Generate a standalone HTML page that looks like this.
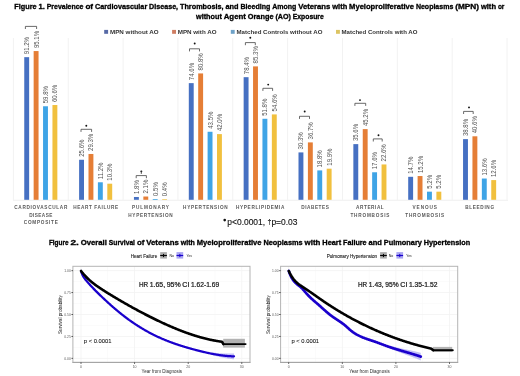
<!DOCTYPE html>
<html><head><meta charset="utf-8"><style>
html,body{margin:0;padding:0;background:#fff;}
body{width:520px;height:376px;overflow:hidden;}
svg{display:block;font-family:"Liberation Sans", sans-serif;will-change:transform;filter:blur(0.3px);}
</style></head><body>
<svg width="520" height="376" viewBox="0 0 520 376">
<rect width="520" height="376" fill="#fff"/>
<text x="14.30" y="8.90" font-size="7.7" font-weight="bold" textLength="22.30" lengthAdjust="spacingAndGlyphs" fill="#000" stroke="#000" stroke-width="0.32">Figure</text>
<text x="38.50" y="8.90" font-size="7.7" font-weight="bold" textLength="6.30" lengthAdjust="spacingAndGlyphs" fill="#000" stroke="#000" stroke-width="0.32">1.</text>
<text x="46.70" y="8.90" font-size="7.7" font-weight="bold" textLength="36.80" lengthAdjust="spacingAndGlyphs" fill="#000" stroke="#000" stroke-width="0.32">Prevalence</text>
<text x="85.40" y="8.90" font-size="7.7" font-weight="bold" textLength="7.70" lengthAdjust="spacingAndGlyphs" fill="#000" stroke="#000" stroke-width="0.32">of</text>
<text x="95.00" y="8.90" font-size="7.7" font-weight="bold" textLength="52.20" lengthAdjust="spacingAndGlyphs" fill="#000" stroke="#000" stroke-width="0.32">Cardiovascular</text>
<text x="149.10" y="8.90" font-size="7.7" font-weight="bold" textLength="29.00" lengthAdjust="spacingAndGlyphs" fill="#000" stroke="#000" stroke-width="0.32">Disease,</text>
<text x="180.00" y="8.90" font-size="7.7" font-weight="bold" textLength="43.60" lengthAdjust="spacingAndGlyphs" fill="#000" stroke="#000" stroke-width="0.32">Thrombosis,</text>
<text x="225.50" y="8.90" font-size="7.7" font-weight="bold" textLength="13.10" lengthAdjust="spacingAndGlyphs" fill="#000" stroke="#000" stroke-width="0.32">and</text>
<text x="240.50" y="8.90" font-size="7.7" font-weight="bold" textLength="29.80" lengthAdjust="spacingAndGlyphs" fill="#000" stroke="#000" stroke-width="0.32">Bleeding</text>
<text x="272.20" y="8.90" font-size="7.7" font-weight="bold" textLength="24.10" lengthAdjust="spacingAndGlyphs" fill="#000" stroke="#000" stroke-width="0.32">Among</text>
<text x="298.20" y="8.90" font-size="7.7" font-weight="bold" textLength="32.20" lengthAdjust="spacingAndGlyphs" fill="#000" stroke="#000" stroke-width="0.32">Veterans</text>
<text x="332.30" y="8.90" font-size="7.7" font-weight="bold" textLength="14.90" lengthAdjust="spacingAndGlyphs" fill="#000" stroke="#000" stroke-width="0.32">with</text>
<text x="349.10" y="8.90" font-size="7.7" font-weight="bold" textLength="64.90" lengthAdjust="spacingAndGlyphs" fill="#000" stroke="#000" stroke-width="0.32">Myeloproliferative</text>
<text x="415.90" y="8.90" font-size="7.7" font-weight="bold" textLength="37.40" lengthAdjust="spacingAndGlyphs" fill="#000" stroke="#000" stroke-width="0.32">Neoplasms</text>
<text x="455.20" y="8.90" font-size="7.7" font-weight="bold" textLength="23.80" lengthAdjust="spacingAndGlyphs" fill="#000" stroke="#000" stroke-width="0.32">(MPN)</text>
<text x="480.90" y="8.90" font-size="7.7" font-weight="bold" textLength="15.10" lengthAdjust="spacingAndGlyphs" fill="#000" stroke="#000" stroke-width="0.32">with</text>
<text x="497.90" y="8.90" font-size="7.7" font-weight="bold" textLength="6.50" lengthAdjust="spacingAndGlyphs" fill="#000" stroke="#000" stroke-width="0.32">or</text>
<text x="196.00" y="18.50" font-size="7.7" font-weight="bold" textLength="25.80" lengthAdjust="spacingAndGlyphs" fill="#000" stroke="#000" stroke-width="0.32">without</text>
<text x="223.70" y="18.50" font-size="7.7" font-weight="bold" textLength="22.20" lengthAdjust="spacingAndGlyphs" fill="#000" stroke="#000" stroke-width="0.32">Agent</text>
<text x="247.80" y="18.50" font-size="7.7" font-weight="bold" textLength="25.70" lengthAdjust="spacingAndGlyphs" fill="#000" stroke="#000" stroke-width="0.32">Orange</text>
<text x="275.40" y="18.50" font-size="7.7" font-weight="bold" textLength="15.50" lengthAdjust="spacingAndGlyphs" fill="#000" stroke="#000" stroke-width="0.32">(AO)</text>
<text x="292.80" y="18.50" font-size="7.7" font-weight="bold" textLength="31.00" lengthAdjust="spacingAndGlyphs" fill="#000" stroke="#000" stroke-width="0.32">Exposure</text>
<rect x="104.2" y="29.9" width="3.9" height="3.9" fill="#5669a6"/>
<text x="110.00" y="33.90" font-size="5.9" font-weight="bold" textLength="48.70" lengthAdjust="spacingAndGlyphs" fill="#333">MPN without AO</text>
<rect x="172.1" y="29.9" width="3.9" height="3.9" fill="#cf7d62"/>
<text x="177.70" y="33.90" font-size="5.9" font-weight="bold" textLength="38.90" lengthAdjust="spacingAndGlyphs" fill="#333">MPN with AO</text>
<rect x="230.8" y="29.9" width="3.9" height="3.9" fill="#6ea2c8"/>
<text x="236.50" y="33.90" font-size="5.9" font-weight="bold" textLength="86.00" lengthAdjust="spacingAndGlyphs" fill="#333">Matched Controls without AO</text>
<rect x="336.0" y="29.9" width="3.9" height="3.9" fill="#dcc462"/>
<text x="341.50" y="33.90" font-size="5.9" font-weight="bold" textLength="76.00" lengthAdjust="spacingAndGlyphs" fill="#333">Matched Controls with AO</text>
<rect x="12.87" y="38" width="1" height="161.80" fill="#f2f2f2"/>
<rect x="67.72" y="38" width="1" height="161.80" fill="#f2f2f2"/>
<rect x="122.58" y="38" width="1" height="161.80" fill="#f2f2f2"/>
<rect x="177.43" y="38" width="1" height="161.80" fill="#f2f2f2"/>
<rect x="232.28" y="38" width="1" height="161.80" fill="#f2f2f2"/>
<rect x="287.12" y="38" width="1" height="161.80" fill="#f2f2f2"/>
<rect x="341.98" y="38" width="1" height="161.80" fill="#f2f2f2"/>
<rect x="396.82" y="38" width="1" height="161.80" fill="#f2f2f2"/>
<rect x="451.68" y="38" width="1" height="161.80" fill="#f2f2f2"/>
<rect x="506.53" y="38" width="1" height="161.80" fill="#f2f2f2"/>
<rect x="13" y="199.80" width="495" height="0.8" fill="#ececec"/>
<rect x="24.25" y="57.16" width="4.9" height="142.64" fill="#4670C2"/>
<text transform="translate(29.15,54.16) rotate(-90)" font-size="6.8" textLength="17.15" lengthAdjust="spacingAndGlyphs" fill="#555">91.2%</text>
<rect x="33.65" y="51.06" width="4.9" height="148.74" fill="#E57E36"/>
<text transform="translate(38.55,48.06) rotate(-90)" font-size="6.8" textLength="17.15" lengthAdjust="spacingAndGlyphs" fill="#555">95.1%</text>
<rect x="43.05" y="106.27" width="4.9" height="93.53" fill="#3FA4E6"/>
<text transform="translate(47.95,103.27) rotate(-90)" font-size="6.8" textLength="17.15" lengthAdjust="spacingAndGlyphs" fill="#555">59.8%</text>
<rect x="52.45" y="105.02" width="4.9" height="94.78" fill="#F1C03E"/>
<text transform="translate(57.35,102.02) rotate(-90)" font-size="6.8" textLength="17.15" lengthAdjust="spacingAndGlyphs" fill="#555">60.6%</text>
<rect x="79.10" y="159.76" width="4.9" height="40.04" fill="#4670C2"/>
<text transform="translate(84.00,156.76) rotate(-90)" font-size="6.8" textLength="17.15" lengthAdjust="spacingAndGlyphs" fill="#555">25.6%</text>
<rect x="88.50" y="153.97" width="4.9" height="45.83" fill="#E57E36"/>
<text transform="translate(93.40,150.97) rotate(-90)" font-size="6.8" textLength="17.15" lengthAdjust="spacingAndGlyphs" fill="#555">29.3%</text>
<rect x="97.90" y="182.28" width="4.9" height="17.52" fill="#3FA4E6"/>
<text transform="translate(102.80,179.28) rotate(-90)" font-size="6.8" textLength="16.70" lengthAdjust="spacingAndGlyphs" fill="#555">11.2%</text>
<rect x="107.30" y="183.69" width="4.9" height="16.11" fill="#F1C03E"/>
<text transform="translate(112.20,180.69) rotate(-90)" font-size="6.8" textLength="17.15" lengthAdjust="spacingAndGlyphs" fill="#555">10.3%</text>
<rect x="133.95" y="196.98" width="4.9" height="2.82" fill="#4670C2"/>
<text transform="translate(138.85,193.98) rotate(-90)" font-size="6.8" textLength="13.79" lengthAdjust="spacingAndGlyphs" fill="#555">1.8%</text>
<rect x="143.35" y="196.52" width="4.9" height="3.28" fill="#E57E36"/>
<text transform="translate(148.25,193.52) rotate(-90)" font-size="6.8" textLength="13.79" lengthAdjust="spacingAndGlyphs" fill="#555">2.1%</text>
<rect x="152.75" y="199.02" width="4.9" height="0.78" fill="#3FA4E6"/>
<text transform="translate(157.65,196.02) rotate(-90)" font-size="6.8" textLength="13.79" lengthAdjust="spacingAndGlyphs" fill="#555">0.5%</text>
<rect x="162.15" y="199.17" width="4.9" height="0.63" fill="#F1C03E"/>
<text transform="translate(167.05,196.17) rotate(-90)" font-size="6.8" textLength="13.79" lengthAdjust="spacingAndGlyphs" fill="#555">0.4%</text>
<rect x="188.80" y="83.13" width="4.9" height="116.67" fill="#4670C2"/>
<text transform="translate(193.70,80.13) rotate(-90)" font-size="6.8" textLength="17.15" lengthAdjust="spacingAndGlyphs" fill="#555">74.6%</text>
<rect x="198.20" y="73.43" width="4.9" height="126.37" fill="#E57E36"/>
<text transform="translate(203.10,70.43) rotate(-90)" font-size="6.8" textLength="17.15" lengthAdjust="spacingAndGlyphs" fill="#555">80.8%</text>
<rect x="207.60" y="131.77" width="4.9" height="68.03" fill="#3FA4E6"/>
<text transform="translate(212.50,128.77) rotate(-90)" font-size="6.8" textLength="17.15" lengthAdjust="spacingAndGlyphs" fill="#555">43.5%</text>
<rect x="217.00" y="134.11" width="4.9" height="65.69" fill="#F1C03E"/>
<text transform="translate(221.90,131.11) rotate(-90)" font-size="6.8" textLength="17.15" lengthAdjust="spacingAndGlyphs" fill="#555">42.0%</text>
<rect x="243.65" y="77.18" width="4.9" height="122.62" fill="#4670C2"/>
<text transform="translate(248.55,74.18) rotate(-90)" font-size="6.8" textLength="17.15" lengthAdjust="spacingAndGlyphs" fill="#555">78.4%</text>
<rect x="253.05" y="66.39" width="4.9" height="133.41" fill="#E57E36"/>
<text transform="translate(257.95,63.39) rotate(-90)" font-size="6.8" textLength="17.15" lengthAdjust="spacingAndGlyphs" fill="#555">85.3%</text>
<rect x="262.45" y="118.78" width="4.9" height="81.02" fill="#3FA4E6"/>
<text transform="translate(267.35,115.78) rotate(-90)" font-size="6.8" textLength="17.15" lengthAdjust="spacingAndGlyphs" fill="#555">51.8%</text>
<rect x="271.85" y="114.41" width="4.9" height="85.39" fill="#F1C03E"/>
<text transform="translate(276.75,111.41) rotate(-90)" font-size="6.8" textLength="17.15" lengthAdjust="spacingAndGlyphs" fill="#555">54.6%</text>
<rect x="298.50" y="152.41" width="4.9" height="47.39" fill="#4670C2"/>
<text transform="translate(303.40,149.41) rotate(-90)" font-size="6.8" textLength="17.15" lengthAdjust="spacingAndGlyphs" fill="#555">30.3%</text>
<rect x="307.90" y="142.40" width="4.9" height="57.40" fill="#E57E36"/>
<text transform="translate(312.80,139.40) rotate(-90)" font-size="6.8" textLength="17.15" lengthAdjust="spacingAndGlyphs" fill="#555">36.7%</text>
<rect x="317.30" y="170.40" width="4.9" height="29.40" fill="#3FA4E6"/>
<text transform="translate(322.20,167.40) rotate(-90)" font-size="6.8" textLength="17.15" lengthAdjust="spacingAndGlyphs" fill="#555">18.8%</text>
<rect x="326.70" y="168.68" width="4.9" height="31.12" fill="#F1C03E"/>
<text transform="translate(331.60,165.68) rotate(-90)" font-size="6.8" textLength="17.15" lengthAdjust="spacingAndGlyphs" fill="#555">19.9%</text>
<rect x="353.35" y="144.12" width="4.9" height="55.68" fill="#4670C2"/>
<text transform="translate(358.25,141.12) rotate(-90)" font-size="6.8" textLength="17.15" lengthAdjust="spacingAndGlyphs" fill="#555">35.6%</text>
<rect x="362.75" y="129.11" width="4.9" height="70.69" fill="#E57E36"/>
<text transform="translate(367.65,126.11) rotate(-90)" font-size="6.8" textLength="17.15" lengthAdjust="spacingAndGlyphs" fill="#555">45.2%</text>
<rect x="372.15" y="172.27" width="4.9" height="27.53" fill="#3FA4E6"/>
<text transform="translate(377.05,169.27) rotate(-90)" font-size="6.8" textLength="17.15" lengthAdjust="spacingAndGlyphs" fill="#555">17.6%</text>
<rect x="381.55" y="164.45" width="4.9" height="35.35" fill="#F1C03E"/>
<text transform="translate(386.45,161.45) rotate(-90)" font-size="6.8" textLength="17.15" lengthAdjust="spacingAndGlyphs" fill="#555">22.6%</text>
<rect x="408.20" y="176.81" width="4.9" height="22.99" fill="#4670C2"/>
<text transform="translate(413.10,173.81) rotate(-90)" font-size="6.8" textLength="17.15" lengthAdjust="spacingAndGlyphs" fill="#555">14.7%</text>
<rect x="417.60" y="176.03" width="4.9" height="23.77" fill="#E57E36"/>
<text transform="translate(422.50,173.03) rotate(-90)" font-size="6.8" textLength="17.15" lengthAdjust="spacingAndGlyphs" fill="#555">15.2%</text>
<rect x="427.00" y="191.67" width="4.9" height="8.13" fill="#3FA4E6"/>
<text transform="translate(431.90,188.67) rotate(-90)" font-size="6.8" textLength="13.79" lengthAdjust="spacingAndGlyphs" fill="#555">5.2%</text>
<rect x="436.40" y="191.67" width="4.9" height="8.13" fill="#F1C03E"/>
<text transform="translate(441.30,188.67) rotate(-90)" font-size="6.8" textLength="13.79" lengthAdjust="spacingAndGlyphs" fill="#555">5.2%</text>
<rect x="463.05" y="139.12" width="4.9" height="60.68" fill="#4670C2"/>
<text transform="translate(467.95,136.12) rotate(-90)" font-size="6.8" textLength="17.15" lengthAdjust="spacingAndGlyphs" fill="#555">38.8%</text>
<rect x="472.45" y="136.30" width="4.9" height="63.50" fill="#E57E36"/>
<text transform="translate(477.35,133.30) rotate(-90)" font-size="6.8" textLength="17.15" lengthAdjust="spacingAndGlyphs" fill="#555">40.6%</text>
<rect x="481.85" y="178.53" width="4.9" height="21.27" fill="#3FA4E6"/>
<text transform="translate(486.75,175.53) rotate(-90)" font-size="6.8" textLength="17.15" lengthAdjust="spacingAndGlyphs" fill="#555">13.6%</text>
<rect x="491.25" y="180.09" width="4.9" height="19.71" fill="#F1C03E"/>
<text transform="translate(496.15,177.09) rotate(-90)" font-size="6.8" textLength="17.15" lengthAdjust="spacingAndGlyphs" fill="#555">12.6%</text>
<path d="M25.40 29.00V26.40H36.60V29.00" fill="none" stroke="#444" stroke-width="0.8"/>
<path d="M81.00 131.90V129.30H91.60V131.90" fill="none" stroke="#444" stroke-width="0.8"/>
<circle cx="86.30" cy="125.70" r="0.95" fill="#111"/>
<path d="M136.20 178.20V175.60H146.40V178.20" fill="none" stroke="#444" stroke-width="0.8"/>
<path d="M141.30 170.40V173.80M140.30 171.40H142.30" stroke="#111" stroke-width="0.8" fill="none"/>
<path d="M189.50 51.40V48.80H199.50V51.40" fill="none" stroke="#444" stroke-width="0.8"/>
<circle cx="194.70" cy="43.50" r="0.95" fill="#111"/>
<path d="M245.40 45.20V42.60H255.30V45.20" fill="none" stroke="#444" stroke-width="0.8"/>
<circle cx="250.30" cy="37.70" r="0.95" fill="#111"/>
<path d="M262.90 90.90V88.30H272.60V90.90" fill="none" stroke="#444" stroke-width="0.8"/>
<circle cx="268.20" cy="84.60" r="0.95" fill="#111"/>
<path d="M299.50 118.90V116.30H309.50V118.90" fill="none" stroke="#444" stroke-width="0.8"/>
<circle cx="304.70" cy="111.50" r="0.95" fill="#111"/>
<path d="M354.90 105.90V103.30H365.70V105.90" fill="none" stroke="#444" stroke-width="0.8"/>
<circle cx="360.00" cy="100.10" r="0.95" fill="#111"/>
<path d="M373.30 141.50V138.90H382.20V141.50" fill="none" stroke="#444" stroke-width="0.8"/>
<circle cx="378.50" cy="135.20" r="0.95" fill="#111"/>
<path d="M463.60 114.00V111.40H473.20V114.00" fill="none" stroke="#444" stroke-width="0.8"/>
<circle cx="469.00" cy="107.40" r="0.95" fill="#111"/>
<text transform="translate(40.80,209.10) scale(0.84,1)" font-size="5.6" font-weight="bold" text-anchor="middle" textLength="63.21" lengthAdjust="spacing" fill="#585858">CARDIOVASCULAR</text>
<text transform="translate(40.80,216.60) scale(0.84,1)" font-size="5.6" font-weight="bold" text-anchor="middle" textLength="27.50" lengthAdjust="spacing" fill="#585858">DISEASE</text>
<text transform="translate(40.80,224.10) scale(0.84,1)" font-size="5.6" font-weight="bold" text-anchor="middle" textLength="40.48" lengthAdjust="spacing" fill="#585858">COMPOSITE</text>
<text transform="translate(95.65,209.10) scale(0.84,1)" font-size="5.6" font-weight="bold" text-anchor="middle" textLength="53.57" lengthAdjust="spacing" fill="#585858">HEART FAILURE</text>
<text transform="translate(150.50,209.10) scale(0.84,1)" font-size="5.6" font-weight="bold" text-anchor="middle" textLength="44.05" lengthAdjust="spacing" fill="#585858">PULMONARY</text>
<text transform="translate(150.50,216.60) scale(0.84,1)" font-size="5.6" font-weight="bold" text-anchor="middle" textLength="52.98" lengthAdjust="spacing" fill="#585858">HYPERTENSION</text>
<text transform="translate(205.35,209.10) scale(0.84,1)" font-size="5.6" font-weight="bold" text-anchor="middle" textLength="52.98" lengthAdjust="spacing" fill="#585858">HYPERTENSION</text>
<text transform="translate(260.20,209.10) scale(0.84,1)" font-size="5.6" font-weight="bold" text-anchor="middle" textLength="57.62" lengthAdjust="spacing" fill="#585858">HYPERLIPIDEMIA</text>
<text transform="translate(315.05,209.10) scale(0.84,1)" font-size="5.6" font-weight="bold" text-anchor="middle" textLength="32.98" lengthAdjust="spacing" fill="#585858">DIABETES</text>
<text transform="translate(369.90,209.10) scale(0.84,1)" font-size="5.6" font-weight="bold" text-anchor="middle" textLength="32.98" lengthAdjust="spacing" fill="#585858">ARTERIAL</text>
<text transform="translate(369.90,216.60) scale(0.84,1)" font-size="5.6" font-weight="bold" text-anchor="middle" textLength="46.43" lengthAdjust="spacing" fill="#585858">THROMBOSIS</text>
<text transform="translate(424.75,209.10) scale(0.84,1)" font-size="5.6" font-weight="bold" text-anchor="middle" textLength="29.17" lengthAdjust="spacing" fill="#585858">VENOUS</text>
<text transform="translate(424.75,216.60) scale(0.84,1)" font-size="5.6" font-weight="bold" text-anchor="middle" textLength="46.43" lengthAdjust="spacing" fill="#585858">THROMBOSIS</text>
<text transform="translate(479.60,209.10) scale(0.84,1)" font-size="5.6" font-weight="bold" text-anchor="middle" textLength="34.40" lengthAdjust="spacing" fill="#585858">BLEEDING</text>
<circle cx="224.7" cy="220.1" r="1.3" fill="#111"/>
<text x="227.30" y="225.20" font-size="8.4" textLength="70.20" lengthAdjust="spacingAndGlyphs" fill="#111" stroke="#111" stroke-width="0.12">p&lt;0.0001, <tspan font-size="7" dy="-1.3">†</tspan><tspan dy="1.3">p=0.03</tspan></text>
<text x="48.90" y="245.10" font-size="7.7" font-weight="bold" textLength="19.60" lengthAdjust="spacingAndGlyphs" fill="#000" stroke="#000" stroke-width="0.32">Figure</text>
<text x="70.40" y="245.10" font-size="7.7" font-weight="bold" textLength="8.40" lengthAdjust="spacingAndGlyphs" fill="#000" stroke="#000" stroke-width="0.32">2.</text>
<text x="80.70" y="245.10" font-size="7.7" font-weight="bold" textLength="26.20" lengthAdjust="spacingAndGlyphs" fill="#000" stroke="#000" stroke-width="0.32">Overall</text>
<text x="108.80" y="245.10" font-size="7.7" font-weight="bold" textLength="26.20" lengthAdjust="spacingAndGlyphs" fill="#000" stroke="#000" stroke-width="0.32">Survival</text>
<text x="136.90" y="245.10" font-size="7.7" font-weight="bold" textLength="7.40" lengthAdjust="spacingAndGlyphs" fill="#000" stroke="#000" stroke-width="0.32">of</text>
<text x="146.20" y="245.10" font-size="7.7" font-weight="bold" textLength="32.70" lengthAdjust="spacingAndGlyphs" fill="#000" stroke="#000" stroke-width="0.32">Veterans</text>
<text x="180.80" y="245.10" font-size="7.7" font-weight="bold" textLength="14.10" lengthAdjust="spacingAndGlyphs" fill="#000" stroke="#000" stroke-width="0.32">with</text>
<text x="196.80" y="245.10" font-size="7.7" font-weight="bold" textLength="64.70" lengthAdjust="spacingAndGlyphs" fill="#000" stroke="#000" stroke-width="0.32">Myeloproliferative</text>
<text x="263.40" y="245.10" font-size="7.7" font-weight="bold" textLength="39.30" lengthAdjust="spacingAndGlyphs" fill="#000" stroke="#000" stroke-width="0.32">Neoplasms</text>
<text x="304.60" y="245.10" font-size="7.7" font-weight="bold" textLength="15.80" lengthAdjust="spacingAndGlyphs" fill="#000" stroke="#000" stroke-width="0.32">with</text>
<text x="322.30" y="245.10" font-size="7.7" font-weight="bold" textLength="18.90" lengthAdjust="spacingAndGlyphs" fill="#000" stroke="#000" stroke-width="0.32">Heart</text>
<text x="343.10" y="245.10" font-size="7.7" font-weight="bold" textLength="23.50" lengthAdjust="spacingAndGlyphs" fill="#000" stroke="#000" stroke-width="0.32">Failure</text>
<text x="368.50" y="245.10" font-size="7.7" font-weight="bold" textLength="13.40" lengthAdjust="spacingAndGlyphs" fill="#000" stroke="#000" stroke-width="0.32">and</text>
<text x="383.80" y="245.10" font-size="7.7" font-weight="bold" textLength="38.10" lengthAdjust="spacingAndGlyphs" fill="#000" stroke="#000" stroke-width="0.32">Pulmonary</text>
<text x="423.80" y="245.10" font-size="7.7" font-weight="bold" textLength="46.40" lengthAdjust="spacingAndGlyphs" fill="#000" stroke="#000" stroke-width="0.32">Hypertension</text>
<rect x="72.90" y="347.05" width="177.10" height="0.6" fill="#f8f8f8"/>
<rect x="72.90" y="325.15" width="177.10" height="0.6" fill="#f8f8f8"/>
<rect x="72.90" y="303.25" width="177.10" height="0.6" fill="#f8f8f8"/>
<rect x="72.90" y="281.35" width="177.10" height="0.6" fill="#f8f8f8"/>
<rect x="107.50" y="266.30" width="0.6" height="96.10" fill="#f8f8f8"/>
<rect x="161.10" y="266.30" width="0.6" height="96.10" fill="#f8f8f8"/>
<rect x="214.70" y="266.30" width="0.6" height="96.10" fill="#f8f8f8"/>
<rect x="72.90" y="357.90" width="177.10" height="0.8" fill="#f3f3f3"/>
<rect x="72.90" y="336.00" width="177.10" height="0.8" fill="#f3f3f3"/>
<rect x="72.90" y="314.10" width="177.10" height="0.8" fill="#f3f3f3"/>
<rect x="72.90" y="292.20" width="177.10" height="0.8" fill="#f3f3f3"/>
<rect x="72.90" y="270.30" width="177.10" height="0.8" fill="#f3f3f3"/>
<rect x="80.60" y="266.30" width="0.8" height="96.10" fill="#f3f3f3"/>
<rect x="134.20" y="266.30" width="0.8" height="96.10" fill="#f3f3f3"/>
<rect x="187.80" y="266.30" width="0.8" height="96.10" fill="#f3f3f3"/>
<rect x="241.40" y="266.30" width="0.8" height="96.10" fill="#f3f3f3"/>
<rect x="72.90" y="266.30" width="177.10" height="96.10" fill="none" stroke="#b4b4b4" stroke-width="1"/>
<rect x="72.40" y="361.90" width="178.10" height="0.9" fill="#a0a0a0"/>
<rect x="71.50" y="270.25" width="1.4" height="0.9" fill="#333"/>
<text x="70.80" y="271.90" font-size="3.5" text-anchor="end" textLength="6.50" lengthAdjust="spacingAndGlyphs" fill="#5a5a5a">1.00</text>
<rect x="71.50" y="292.15" width="1.4" height="0.9" fill="#333"/>
<text x="70.80" y="293.80" font-size="3.5" text-anchor="end" textLength="6.50" lengthAdjust="spacingAndGlyphs" fill="#5a5a5a">0.75</text>
<rect x="71.50" y="314.05" width="1.4" height="0.9" fill="#333"/>
<text x="70.80" y="315.70" font-size="3.5" text-anchor="end" textLength="6.50" lengthAdjust="spacingAndGlyphs" fill="#5a5a5a">0.50</text>
<rect x="71.50" y="335.95" width="1.4" height="0.9" fill="#333"/>
<text x="70.80" y="337.60" font-size="3.5" text-anchor="end" textLength="6.50" lengthAdjust="spacingAndGlyphs" fill="#5a5a5a">0.25</text>
<rect x="71.50" y="357.85" width="1.4" height="0.9" fill="#333"/>
<text x="70.80" y="359.50" font-size="3.5" text-anchor="end" textLength="6.50" lengthAdjust="spacingAndGlyphs" fill="#5a5a5a">0.00</text>
<rect x="80.55" y="362.40" width="0.9" height="1.4" fill="#333"/>
<text x="81.00" y="367.60" font-size="3.5" text-anchor="middle" fill="#5a5a5a">0</text>
<rect x="134.15" y="362.40" width="0.9" height="1.4" fill="#333"/>
<text x="134.60" y="367.60" font-size="3.5" text-anchor="middle" fill="#5a5a5a">10</text>
<rect x="187.75" y="362.40" width="0.9" height="1.4" fill="#333"/>
<text x="188.20" y="367.60" font-size="3.5" text-anchor="middle" fill="#5a5a5a">20</text>
<rect x="241.35" y="362.40" width="0.9" height="1.4" fill="#333"/>
<text x="241.80" y="367.60" font-size="3.5" text-anchor="middle" fill="#5a5a5a">30</text>
<text x="161.75" y="373.10" font-size="4.7" text-anchor="middle" textLength="40.40" lengthAdjust="spacingAndGlyphs" fill="#2a2a2a">Year from Diagnosis</text>
<text transform="translate(61.90,314.55) rotate(-90)" font-size="4.7" text-anchor="middle" textLength="39" lengthAdjust="spacingAndGlyphs" fill="#2a2a2a">Survival probability</text>
<rect x="223.20" y="338.80" width="21.70" height="8.80" fill="#a6a6a6" fill-opacity="0.85"/>
<path d="M212.00 352.48 L212.50 352.54 L213.00 352.59 L213.50 352.65 L214.00 352.70 L214.50 352.76 L215.00 352.81 L215.50 352.86 L216.00 352.91 L216.50 352.96 L217.00 353.00 L217.50 353.04 L218.00 353.09 L218.50 353.13 L219.00 353.17 L219.50 353.20 L220.00 353.24 L220.50 353.27 L221.00 353.30 L221.50 353.33 L222.00 353.36 L222.50 353.38 L223.00 353.41 L223.50 353.43 L224.00 353.45 L224.50 353.47 L225.00 353.48 L225.50 353.50 L226.00 353.51 L226.50 353.52 L227.00 353.52 L227.50 353.53 L228.00 353.53 L228.50 353.53 L229.00 353.53 L229.50 353.53 L230.00 353.52 L230.50 353.51 L231.00 353.50 L231.50 353.49 L232.00 353.47 L232.50 353.45 L233.00 353.43 L233.50 353.41 L234.00 353.39 L234.00 359.32 L233.50 359.27 L233.00 359.22 L232.50 359.17 L232.00 359.11 L231.50 359.05 L231.00 358.98 L230.50 358.92 L230.00 358.85 L229.50 358.78 L229.00 358.71 L228.50 358.64 L228.00 358.56 L227.50 358.48 L227.00 358.40 L226.50 358.32 L226.00 358.23 L225.50 358.14 L225.00 358.06 L224.50 357.96 L224.00 357.87 L223.50 357.77 L223.00 357.68 L222.50 357.58 L222.00 357.48 L221.50 357.37 L221.00 357.27 L220.50 357.16 L220.00 357.05 L219.50 356.94 L219.00 356.83 L218.50 356.71 L218.00 356.60 L217.50 356.48 L217.00 356.36 L216.50 356.24 L216.00 356.12 L215.50 355.99 L215.00 355.87 L214.50 355.74 L214.00 355.61 L213.50 355.48 L213.00 355.35 L212.50 355.21 L212.00 355.08Z" fill="#a9a6f2" fill-opacity="0.7"/>
<path d="M81.00 271.00 L81.50 272.48 L82.00 273.79 L82.50 274.94 L83.00 275.97 L83.50 276.87 L84.00 277.68 L84.50 278.41 L85.00 279.07 L85.50 279.70 L86.00 280.30 L86.50 280.89 L87.00 281.47 L87.50 282.05 L88.00 282.63 L88.50 283.20 L89.00 283.76 L89.50 284.32 L90.00 284.87 L90.50 285.42 L91.00 285.96 L91.50 286.50 L92.00 287.04 L92.50 287.57 L93.00 288.09 L93.50 288.62 L94.00 289.13 L94.50 289.65 L95.00 290.16 L95.50 290.67 L96.00 291.17 L96.50 291.67 L97.00 292.17 L97.50 292.66 L98.00 293.16 L98.50 293.65 L99.00 294.13 L99.50 294.62 L100.00 295.10 L100.50 295.58 L101.00 296.06 L101.50 296.54 L102.00 297.01 L102.50 297.49 L103.00 297.96 L103.50 298.43 L104.00 298.90 L104.50 299.37 L105.00 299.83 L105.50 300.30 L106.00 300.76 L106.50 301.22 L107.00 301.68 L107.50 302.14 L108.00 302.60 L108.50 303.05 L109.00 303.50 L109.50 303.95 L110.00 304.40 L110.50 304.85 L111.00 305.29 L111.50 305.74 L112.00 306.18 L112.50 306.62 L113.00 307.05 L113.50 307.49 L114.00 307.92 L114.50 308.35 L115.00 308.78 L115.50 309.21 L116.00 309.63 L116.50 310.06 L117.00 310.48 L117.50 310.89 L118.00 311.31 L118.50 311.72 L119.00 312.13 L119.50 312.54 L120.00 312.95 L120.50 313.35 L121.00 313.75 L121.50 314.15 L122.00 314.55 L122.50 314.94 L123.00 315.33 L123.50 315.72 L124.00 316.11 L124.50 316.49 L125.00 316.87 L125.50 317.25 L126.00 317.63 L126.50 318.00 L127.00 318.37 L127.50 318.74 L128.00 319.11 L128.50 319.47 L129.00 319.84 L129.50 320.19 L130.00 320.55 L130.50 320.91 L131.00 321.26 L131.50 321.61 L132.00 321.96 L132.50 322.30 L133.00 322.64 L133.50 322.98 L134.00 323.32 L134.50 323.66 L135.00 323.99 L135.50 324.32 L136.00 324.65 L136.50 324.98 L137.00 325.30 L137.50 325.62 L138.00 325.94 L138.50 326.26 L139.00 326.57 L139.50 326.89 L140.00 327.20 L140.50 327.50 L141.00 327.81 L141.50 328.11 L142.00 328.41 L142.50 328.71 L143.00 329.01 L143.50 329.31 L144.00 329.60 L144.50 329.89 L145.00 330.18 L145.50 330.46 L146.00 330.74 L146.50 331.03 L147.00 331.30 L147.50 331.58 L148.00 331.86 L148.50 332.13 L149.00 332.40 L149.50 332.67 L150.00 332.93 L150.50 333.20 L151.00 333.46 L151.50 333.72 L152.00 333.98 L152.50 334.23 L153.00 334.48 L153.50 334.74 L154.00 334.98 L154.50 335.23 L155.00 335.48 L155.50 335.72 L156.00 335.96 L156.50 336.20 L157.00 336.43 L157.50 336.67 L158.00 336.90 L158.50 337.13 L159.00 337.36 L159.50 337.59 L160.00 337.81 L160.50 338.04 L161.00 338.26 L161.50 338.48 L162.00 338.69 L162.50 338.91 L163.00 339.12 L163.50 339.33 L164.00 339.54 L164.50 339.75 L165.00 339.96 L165.50 340.16 L166.00 340.36 L166.50 340.57 L167.00 340.76 L167.50 340.96 L168.00 341.16 L168.50 341.35 L169.00 341.55 L169.50 341.74 L170.00 341.93 L170.50 342.11 L171.00 342.30 L171.50 342.49 L172.00 342.67 L172.50 342.85 L173.00 343.03 L173.50 343.21 L174.00 343.39 L174.50 343.56 L175.00 343.74 L175.50 343.91 L176.00 344.08 L176.50 344.26 L177.00 344.42 L177.50 344.59 L178.00 344.76 L178.50 344.92 L179.00 345.09 L179.50 345.25 L180.00 345.41 L180.50 345.57 L181.00 345.73 L181.50 345.89 L182.00 346.05 L182.50 346.20 L183.00 346.36 L183.50 346.51 L184.00 346.66 L184.50 346.82 L185.00 346.97 L185.50 347.11 L186.00 347.26 L186.50 347.41 L187.00 347.56 L187.50 347.70 L188.00 347.85 L188.50 347.99 L189.00 348.13 L189.50 348.27 L190.00 348.41 L190.50 348.55 L191.00 348.69 L191.50 348.83 L192.00 348.97 L192.50 349.11 L193.00 349.24 L193.50 349.38 L194.00 349.51 L194.50 349.64 L195.00 349.78 L195.50 349.91 L196.00 350.04 L196.50 350.17 L197.00 350.30 L197.50 350.43 L198.00 350.56 L198.50 350.69 L199.00 350.82 L199.50 350.94 L200.00 351.07 L200.50 351.19 L201.00 351.32 L201.50 351.44 L202.00 351.56 L202.50 351.68 L203.00 351.80 L203.50 351.92 L204.00 352.04 L204.50 352.16 L205.00 352.27 L205.50 352.39 L206.00 352.50 L206.50 352.62 L207.00 352.73 L207.50 352.84 L208.00 352.95 L208.50 353.06 L209.00 353.16 L209.50 353.27 L210.00 353.37 L210.50 353.48 L211.00 353.58 L211.50 353.68 L212.00 353.78 L212.50 353.87 L213.00 353.97 L213.50 354.06 L214.00 354.16 L214.50 354.25 L215.00 354.34 L215.50 354.43 L216.00 354.51 L216.50 354.60 L217.00 354.68 L217.50 354.76 L218.00 354.84 L218.50 354.92 L219.00 355.00 L219.50 355.07 L220.00 355.14 L220.50 355.22 L221.00 355.28 L221.50 355.35 L222.00 355.42 L222.50 355.48 L223.00 355.54 L223.50 355.60 L224.00 355.66 L224.50 355.72 L225.00 355.77 L225.50 355.82 L226.00 355.87 L226.50 355.92 L227.00 355.96 L227.50 356.01 L228.00 356.05 L228.50 356.08 L229.00 356.12 L229.50 356.15 L230.00 356.19 L230.50 356.22 L231.00 356.24 L231.50 356.27 L232.00 356.29 L232.50 356.31 L233.00 356.33 L233.50 356.34 L234.00 356.35" fill="none" stroke="#1a00cc" stroke-width="2.25" stroke-linejoin="round" stroke-linecap="round"/>
<path d="M81.00 271.00 L81.50 271.63 L82.00 272.25 L82.50 272.85 L83.00 273.44 L83.50 274.02 L84.00 274.58 L84.50 275.14 L85.00 275.68 L85.50 276.21 L86.00 276.73 L86.50 277.24 L87.00 277.74 L87.50 278.23 L88.00 278.71 L88.50 279.19 L89.00 279.65 L89.50 280.10 L90.00 280.55 L90.50 280.98 L91.00 281.41 L91.50 281.84 L92.00 282.25 L92.50 282.66 L93.00 283.06 L93.50 283.45 L94.00 283.84 L94.50 284.22 L95.00 284.60 L95.50 284.97 L96.00 285.33 L96.50 285.69 L97.00 286.05 L97.50 286.40 L98.00 286.75 L98.50 287.09 L99.00 287.43 L99.50 287.77 L100.00 288.10 L100.50 288.44 L101.00 288.77 L101.50 289.09 L102.00 289.42 L102.50 289.75 L103.00 290.07 L103.50 290.39 L104.00 290.71 L104.50 291.03 L105.00 291.35 L105.50 291.66 L106.00 291.98 L106.50 292.29 L107.00 292.61 L107.50 292.92 L108.00 293.23 L108.50 293.54 L109.00 293.85 L109.50 294.15 L110.00 294.46 L110.50 294.77 L111.00 295.07 L111.50 295.38 L112.00 295.68 L112.50 295.98 L113.00 296.28 L113.50 296.58 L114.00 296.88 L114.50 297.18 L115.00 297.48 L115.50 297.78 L116.00 298.07 L116.50 298.37 L117.00 298.67 L117.50 298.96 L118.00 299.26 L118.50 299.55 L119.00 299.84 L119.50 300.14 L120.00 300.43 L120.50 300.72 L121.00 301.01 L121.50 301.30 L122.00 301.59 L122.50 301.88 L123.00 302.17 L123.50 302.46 L124.00 302.75 L124.50 303.03 L125.00 303.32 L125.50 303.60 L126.00 303.89 L126.50 304.17 L127.00 304.46 L127.50 304.74 L128.00 305.02 L128.50 305.30 L129.00 305.58 L129.50 305.87 L130.00 306.14 L130.50 306.42 L131.00 306.70 L131.50 306.98 L132.00 307.26 L132.50 307.53 L133.00 307.81 L133.50 308.08 L134.00 308.36 L134.50 308.63 L135.00 308.91 L135.50 309.18 L136.00 309.45 L136.50 309.72 L137.00 309.99 L137.50 310.26 L138.00 310.53 L138.50 310.80 L139.00 311.07 L139.50 311.33 L140.00 311.60 L140.50 311.87 L141.00 312.13 L141.50 312.40 L142.00 312.66 L142.50 312.92 L143.00 313.18 L143.50 313.45 L144.00 313.71 L144.50 313.97 L145.00 314.23 L145.50 314.48 L146.00 314.74 L146.50 315.00 L147.00 315.26 L147.50 315.51 L148.00 315.77 L148.50 316.02 L149.00 316.27 L149.50 316.53 L150.00 316.78 L150.50 317.03 L151.00 317.28 L151.50 317.53 L152.00 317.78 L152.50 318.03 L153.00 318.28 L153.50 318.52 L154.00 318.77 L154.50 319.02 L155.00 319.26 L155.50 319.50 L156.00 319.75 L156.50 319.99 L157.00 320.23 L157.50 320.47 L158.00 320.71 L158.50 320.95 L159.00 321.19 L159.50 321.43 L160.00 321.66 L160.50 321.90 L161.00 322.14 L161.50 322.37 L162.00 322.60 L162.50 322.83 L163.00 323.07 L163.50 323.30 L164.00 323.53 L164.50 323.76 L165.00 323.98 L165.50 324.21 L166.00 324.44 L166.50 324.66 L167.00 324.89 L167.50 325.11 L168.00 325.33 L168.50 325.55 L169.00 325.77 L169.50 325.99 L170.00 326.21 L170.50 326.43 L171.00 326.64 L171.50 326.86 L172.00 327.07 L172.50 327.28 L173.00 327.50 L173.50 327.71 L174.00 327.92 L174.50 328.13 L175.00 328.33 L175.50 328.54 L176.00 328.74 L176.50 328.95 L177.00 329.15 L177.50 329.35 L178.00 329.56 L178.50 329.75 L179.00 329.95 L179.50 330.15 L180.00 330.35 L180.50 330.54 L181.00 330.74 L181.50 330.93 L182.00 331.12 L182.50 331.31 L183.00 331.50 L183.50 331.69 L184.00 331.87 L184.50 332.06 L185.00 332.24 L185.50 332.43 L186.00 332.61 L186.50 332.79 L187.00 332.97 L187.50 333.14 L188.00 333.32 L188.50 333.49 L189.00 333.67 L189.50 333.84 L190.00 334.01 L190.50 334.18 L191.00 334.35 L191.50 334.52 L192.00 334.68 L192.50 334.84 L193.00 335.01 L193.50 335.17 L194.00 335.33 L194.50 335.49 L195.00 335.64 L195.50 335.80 L196.00 335.95 L196.50 336.11 L197.00 336.26 L197.50 336.41 L198.00 336.56 L198.50 336.70 L199.00 336.85 L199.50 336.99 L200.00 337.13 L200.50 337.27 L201.00 337.41 L201.50 337.55 L202.00 337.69 L202.50 337.82 L203.00 337.95 L203.50 338.09 L204.00 338.22 L204.50 338.34 L205.00 338.47 L205.50 338.60 L206.00 338.72 L206.50 338.84 L207.00 338.96 L207.50 339.08 L208.00 339.20 L208.50 339.31 L209.00 339.42 L209.50 339.54 L210.00 339.65 L210.50 339.75 L211.00 339.86 L211.50 339.97 L212.00 340.07 L212.50 340.17 L213.00 340.27 L213.50 340.37 L214.00 340.47 L214.50 340.56 L215.00 340.65 L215.50 340.75 L216.00 340.83 L216.50 340.92 L217.00 341.01 L217.50 341.09 L218.00 341.17 L218.50 341.25 L219.00 341.33 L219.50 341.41 L220.00 341.48 L220.50 341.56 L221.00 341.63 L221.50 341.70 L222.00 341.76 L223.40 344.10" fill="none" stroke="#000" stroke-width="2.6" stroke-linejoin="round" stroke-linecap="round"/>
<path d="M223.40 344.10H245.60" fill="none" stroke="#000" stroke-width="1.9" stroke-linecap="round"/>
<text x="139.00" y="287.10" font-size="6.8" textLength="9.20" lengthAdjust="spacingAndGlyphs" fill="#1a1a1a" stroke="#1a1a1a" stroke-width="0.22">HR</text>
<text x="149.80" y="287.10" font-size="6.8" textLength="15.30" lengthAdjust="spacingAndGlyphs" fill="#1a1a1a" stroke="#1a1a1a" stroke-width="0.22">1.65,</text>
<text x="166.70" y="287.10" font-size="6.8" textLength="14.00" lengthAdjust="spacingAndGlyphs" fill="#1a1a1a" stroke="#1a1a1a" stroke-width="0.22">95%</text>
<text x="182.30" y="287.10" font-size="6.8" textLength="7.10" lengthAdjust="spacingAndGlyphs" fill="#1a1a1a" stroke="#1a1a1a" stroke-width="0.22">CI</text>
<text x="191.00" y="287.10" font-size="6.8" textLength="28.10" lengthAdjust="spacingAndGlyphs" fill="#1a1a1a" stroke="#1a1a1a" stroke-width="0.22">1.62-1.69</text>
<text x="83.80" y="343.20" font-size="6.2" textLength="27.60" lengthAdjust="spacingAndGlyphs" fill="#111" stroke="#111" stroke-width="0.06">p &lt; 0.0001</text>
<text x="130.70" y="257.70" font-size="4.8" textLength="26.50" lengthAdjust="spacingAndGlyphs" fill="#1a1a1a" stroke="#1a1a1a" stroke-width="0.1">Heart Failure</text>
<rect x="160.20" y="252.1" width="6.7" height="6.5" fill="#acacac"/>
<rect x="160.20" y="254.9" width="6.7" height="1.2" fill="#000"/>
<rect x="163.05" y="253.9" width="1" height="3.2" fill="#000"/>
<rect x="176.50" y="252.1" width="6.7" height="6.5" fill="#aaa6f2"/>
<rect x="176.50" y="254.9" width="6.7" height="1.2" fill="#1a00cc"/>
<rect x="179.35" y="253.9" width="1" height="3.2" fill="#1a00cc"/>
<text x="169.50" y="257.30" font-size="3.5" textLength="4.60" lengthAdjust="spacingAndGlyphs" fill="#1a1a1a">No</text>
<text x="186.50" y="257.30" font-size="3.5" textLength="5.40" lengthAdjust="spacingAndGlyphs" fill="#1a1a1a">Yes</text>
<rect x="280.60" y="347.05" width="177.10" height="0.6" fill="#f8f8f8"/>
<rect x="280.60" y="325.15" width="177.10" height="0.6" fill="#f8f8f8"/>
<rect x="280.60" y="303.25" width="177.10" height="0.6" fill="#f8f8f8"/>
<rect x="280.60" y="281.35" width="177.10" height="0.6" fill="#f8f8f8"/>
<rect x="315.20" y="266.30" width="0.6" height="96.10" fill="#f8f8f8"/>
<rect x="368.80" y="266.30" width="0.6" height="96.10" fill="#f8f8f8"/>
<rect x="422.40" y="266.30" width="0.6" height="96.10" fill="#f8f8f8"/>
<rect x="280.60" y="357.90" width="177.10" height="0.8" fill="#f3f3f3"/>
<rect x="280.60" y="336.00" width="177.10" height="0.8" fill="#f3f3f3"/>
<rect x="280.60" y="314.10" width="177.10" height="0.8" fill="#f3f3f3"/>
<rect x="280.60" y="292.20" width="177.10" height="0.8" fill="#f3f3f3"/>
<rect x="280.60" y="270.30" width="177.10" height="0.8" fill="#f3f3f3"/>
<rect x="288.30" y="266.30" width="0.8" height="96.10" fill="#f3f3f3"/>
<rect x="341.90" y="266.30" width="0.8" height="96.10" fill="#f3f3f3"/>
<rect x="395.50" y="266.30" width="0.8" height="96.10" fill="#f3f3f3"/>
<rect x="449.10" y="266.30" width="0.8" height="96.10" fill="#f3f3f3"/>
<rect x="280.60" y="266.30" width="177.10" height="96.10" fill="none" stroke="#b4b4b4" stroke-width="1"/>
<rect x="280.10" y="361.90" width="178.10" height="0.9" fill="#a0a0a0"/>
<rect x="279.20" y="270.25" width="1.4" height="0.9" fill="#333"/>
<text x="278.50" y="271.90" font-size="3.5" text-anchor="end" textLength="6.50" lengthAdjust="spacingAndGlyphs" fill="#5a5a5a">1.00</text>
<rect x="279.20" y="292.15" width="1.4" height="0.9" fill="#333"/>
<text x="278.50" y="293.80" font-size="3.5" text-anchor="end" textLength="6.50" lengthAdjust="spacingAndGlyphs" fill="#5a5a5a">0.75</text>
<rect x="279.20" y="314.05" width="1.4" height="0.9" fill="#333"/>
<text x="278.50" y="315.70" font-size="3.5" text-anchor="end" textLength="6.50" lengthAdjust="spacingAndGlyphs" fill="#5a5a5a">0.50</text>
<rect x="279.20" y="335.95" width="1.4" height="0.9" fill="#333"/>
<text x="278.50" y="337.60" font-size="3.5" text-anchor="end" textLength="6.50" lengthAdjust="spacingAndGlyphs" fill="#5a5a5a">0.25</text>
<rect x="279.20" y="357.85" width="1.4" height="0.9" fill="#333"/>
<text x="278.50" y="359.50" font-size="3.5" text-anchor="end" textLength="6.50" lengthAdjust="spacingAndGlyphs" fill="#5a5a5a">0.00</text>
<rect x="288.25" y="362.40" width="0.9" height="1.4" fill="#333"/>
<text x="288.70" y="367.60" font-size="3.5" text-anchor="middle" fill="#5a5a5a">0</text>
<rect x="341.85" y="362.40" width="0.9" height="1.4" fill="#333"/>
<text x="342.30" y="367.60" font-size="3.5" text-anchor="middle" fill="#5a5a5a">10</text>
<rect x="395.45" y="362.40" width="0.9" height="1.4" fill="#333"/>
<text x="395.90" y="367.60" font-size="3.5" text-anchor="middle" fill="#5a5a5a">20</text>
<rect x="449.05" y="362.40" width="0.9" height="1.4" fill="#333"/>
<text x="449.50" y="367.60" font-size="3.5" text-anchor="middle" fill="#5a5a5a">30</text>
<text x="369.45" y="373.10" font-size="4.7" text-anchor="middle" textLength="40.40" lengthAdjust="spacingAndGlyphs" fill="#2a2a2a">Year from Diagnosis</text>
<text transform="translate(269.60,314.55) rotate(-90)" font-size="4.7" text-anchor="middle" textLength="39" lengthAdjust="spacingAndGlyphs" fill="#2a2a2a">Survival probability</text>
<rect x="433.00" y="346.90" width="19.20" height="4.80" fill="#a6a6a6" fill-opacity="0.85"/>
<path d="M390.30 345.87 L390.80 345.99 L391.30 346.12 L391.80 346.24 L392.30 346.37 L392.80 346.49 L393.30 346.61 L393.80 346.73 L394.30 346.85 L394.80 346.97 L395.30 347.08 L395.80 347.20 L396.30 347.31 L396.80 347.43 L397.30 347.54 L397.80 347.65 L398.30 347.76 L398.80 347.88 L399.30 347.99 L399.80 348.10 L400.30 348.20 L400.80 348.31 L401.30 348.42 L401.80 348.53 L402.30 348.64 L402.80 348.75 L403.30 348.85 L403.80 348.96 L404.30 349.07 L404.80 349.17 L405.30 349.28 L405.80 349.39 L406.30 349.49 L406.80 349.60 L407.30 349.71 L407.80 349.81 L408.30 349.92 L408.80 350.03 L409.30 350.14 L409.80 350.25 L410.30 350.35 L410.80 350.46 L411.30 350.57 L411.80 350.68 L412.30 350.79 L412.80 350.91 L413.30 351.02 L413.80 351.13 L414.30 351.25 L414.80 351.36 L415.30 351.48 L415.80 351.59 L416.30 351.71 L416.80 351.83 L417.30 351.95 L417.80 352.07 L418.30 352.19 L418.80 352.31 L419.30 352.44 L419.80 352.56 L420.30 352.69 L420.80 352.82 L420.80 360.40 L420.30 360.20 L419.80 359.99 L419.30 359.79 L418.80 359.59 L418.30 359.39 L417.80 359.19 L417.30 358.99 L416.80 358.79 L416.30 358.60 L415.80 358.40 L415.30 358.21 L414.80 358.01 L414.30 357.82 L413.80 357.63 L413.30 357.44 L412.80 357.25 L412.30 357.06 L411.80 356.87 L411.30 356.68 L410.80 356.49 L410.30 356.31 L409.80 356.12 L409.30 355.94 L408.80 355.75 L408.30 355.56 L407.80 355.38 L407.30 355.19 L406.80 355.01 L406.30 354.83 L405.80 354.64 L405.30 354.46 L404.80 354.27 L404.30 354.09 L403.80 353.90 L403.30 353.72 L402.80 353.53 L402.30 353.35 L401.80 353.16 L401.30 352.98 L400.80 352.79 L400.30 352.60 L399.80 352.42 L399.30 352.23 L398.80 352.04 L398.30 351.85 L397.80 351.66 L397.30 351.47 L396.80 351.28 L396.30 351.09 L395.80 350.90 L395.30 350.71 L394.80 350.51 L394.30 350.32 L393.80 350.12 L393.30 349.92 L392.80 349.72 L392.30 349.52 L391.80 349.32 L391.30 349.12 L390.80 348.92 L390.30 348.71Z" fill="#a9a6f2" fill-opacity="0.7"/>
<path d="M288.80 271.00 L289.30 272.44 L289.80 273.76 L290.30 274.96 L290.80 276.07 L291.30 277.08 L291.80 278.01 L292.30 278.86 L292.80 279.63 L293.30 280.34 L293.80 280.99 L294.30 281.59 L294.80 282.14 L295.30 282.66 L295.80 283.14 L296.30 283.59 L296.80 284.02 L297.30 284.43 L297.80 284.83 L298.30 285.22 L298.80 285.61 L299.30 286.00 L299.80 286.39 L300.30 286.80 L300.80 287.23 L301.30 287.68 L301.80 288.16 L302.30 288.67 L302.80 289.21 L303.30 289.77 L303.80 290.36 L304.30 290.96 L304.80 291.56 L305.30 292.16 L305.80 292.76 L306.30 293.34 L306.80 293.91 L307.30 294.46 L307.80 295.00 L308.30 295.52 L308.80 296.04 L309.30 296.54 L309.80 297.03 L310.30 297.51 L310.80 297.98 L311.30 298.45 L311.80 298.91 L312.30 299.36 L312.80 299.80 L313.30 300.24 L313.80 300.68 L314.30 301.11 L314.80 301.54 L315.30 301.97 L315.80 302.40 L316.30 302.82 L316.80 303.25 L317.30 303.68 L317.80 304.12 L318.30 304.55 L318.80 304.99 L319.30 305.44 L319.80 305.88 L320.30 306.33 L320.80 306.78 L321.30 307.23 L321.80 307.68 L322.30 308.13 L322.80 308.58 L323.30 309.03 L323.80 309.48 L324.30 309.92 L324.80 310.37 L325.30 310.81 L325.80 311.25 L326.30 311.69 L326.80 312.12 L327.30 312.55 L327.80 312.97 L328.30 313.39 L328.80 313.80 L329.30 314.21 L329.80 314.61 L330.30 315.00 L330.80 315.38 L331.30 315.76 L331.80 316.13 L332.30 316.49 L332.80 316.85 L333.30 317.20 L333.80 317.54 L334.30 317.88 L334.80 318.22 L335.30 318.55 L335.80 318.88 L336.30 319.21 L336.80 319.54 L337.30 319.87 L337.80 320.20 L338.30 320.53 L338.80 320.86 L339.30 321.19 L339.80 321.53 L340.30 321.87 L340.80 322.21 L341.30 322.56 L341.80 322.92 L342.30 323.28 L342.80 323.65 L343.30 324.02 L343.80 324.41 L344.30 324.80 L344.80 325.21 L345.30 325.62 L345.80 326.05 L346.30 326.48 L346.80 326.93 L347.30 327.38 L347.80 327.84 L348.30 328.30 L348.80 328.76 L349.30 329.21 L349.80 329.65 L350.30 330.08 L350.80 330.49 L351.30 330.90 L351.80 331.29 L352.30 331.67 L352.80 332.04 L353.30 332.39 L353.80 332.74 L354.30 333.08 L354.80 333.40 L355.30 333.72 L355.80 334.02 L356.30 334.32 L356.80 334.60 L357.30 334.88 L357.80 335.15 L358.30 335.41 L358.80 335.66 L359.30 335.91 L359.80 336.15 L360.30 336.38 L360.80 336.61 L361.30 336.83 L361.80 337.04 L362.30 337.25 L362.80 337.45 L363.30 337.65 L363.80 337.84 L364.30 338.03 L364.80 338.22 L365.30 338.40 L365.80 338.58 L366.30 338.76 L366.80 338.93 L367.30 339.10 L367.80 339.27 L368.30 339.44 L368.80 339.60 L369.30 339.77 L369.80 339.93 L370.30 340.10 L370.80 340.26 L371.30 340.43 L371.80 340.59 L372.30 340.76 L372.80 340.93 L373.30 341.10 L373.80 341.27 L374.30 341.44 L374.80 341.62 L375.30 341.80 L375.80 341.98 L376.30 342.16 L376.80 342.34 L377.30 342.53 L377.80 342.71 L378.30 342.90 L378.80 343.09 L379.30 343.28 L379.80 343.47 L380.30 343.66 L380.80 343.85 L381.30 344.04 L381.80 344.23 L382.30 344.42 L382.80 344.61 L383.30 344.80 L383.80 344.98 L384.30 345.17 L384.80 345.36 L385.30 345.54 L385.80 345.72 L386.30 345.90 L386.80 346.08 L387.30 346.26 L387.80 346.44 L388.30 346.61 L388.80 346.78 L389.30 346.95 L389.80 347.12 L390.30 347.29 L390.80 347.45 L391.30 347.62 L391.80 347.78 L392.30 347.95 L392.80 348.11 L393.30 348.27 L393.80 348.42 L394.30 348.58 L394.80 348.74 L395.30 348.89 L395.80 349.05 L396.30 349.20 L396.80 349.36 L397.30 349.51 L397.80 349.66 L398.30 349.81 L398.80 349.96 L399.30 350.11 L399.80 350.26 L400.30 350.40 L400.80 350.55 L401.30 350.70 L401.80 350.85 L402.30 350.99 L402.80 351.14 L403.30 351.29 L403.80 351.43 L404.30 351.58 L404.80 351.72 L405.30 351.87 L405.80 352.01 L406.30 352.16 L406.80 352.30 L407.30 352.45 L407.80 352.60 L408.30 352.74 L408.80 352.89 L409.30 353.04 L409.80 353.18 L410.30 353.33 L410.80 353.48 L411.30 353.63 L411.80 353.78 L412.30 353.93 L412.80 354.08 L413.30 354.23 L413.80 354.38 L414.30 354.53 L414.80 354.69 L415.30 354.84 L415.80 355.00 L416.30 355.15 L416.80 355.31 L417.30 355.47 L417.80 355.63 L418.30 355.79 L418.80 355.95 L419.30 356.11 L419.80 356.28 L420.30 356.44 L420.80 356.61" fill="none" stroke="#1a00cc" stroke-width="2.7" stroke-linejoin="round" stroke-linecap="round"/>
<path d="M288.80 271.00 L289.30 272.05 L289.80 273.05 L290.30 273.99 L290.80 274.89 L291.30 275.74 L291.80 276.54 L292.30 277.30 L292.80 278.02 L293.30 278.70 L293.80 279.34 L294.30 279.95 L294.80 280.53 L295.30 281.07 L295.80 281.59 L296.30 282.08 L296.80 282.55 L297.30 282.99 L297.80 283.41 L298.30 283.82 L298.80 284.21 L299.30 284.58 L299.80 284.95 L300.30 285.30 L300.80 285.65 L301.30 285.99 L301.80 286.32 L302.30 286.66 L302.80 286.99 L303.30 287.33 L303.80 287.66 L304.30 288.00 L304.80 288.33 L305.30 288.66 L305.80 289.00 L306.30 289.33 L306.80 289.67 L307.30 290.00 L307.80 290.34 L308.30 290.68 L308.80 291.02 L309.30 291.36 L309.80 291.70 L310.30 292.04 L310.80 292.38 L311.30 292.73 L311.80 293.08 L312.30 293.42 L312.80 293.77 L313.30 294.12 L313.80 294.47 L314.30 294.82 L314.80 295.18 L315.30 295.53 L315.80 295.88 L316.30 296.23 L316.80 296.59 L317.30 296.94 L317.80 297.29 L318.30 297.64 L318.80 298.00 L319.30 298.35 L319.80 298.70 L320.30 299.05 L320.80 299.39 L321.30 299.74 L321.80 300.09 L322.30 300.43 L322.80 300.78 L323.30 301.12 L323.80 301.46 L324.30 301.80 L324.80 302.14 L325.30 302.48 L325.80 302.81 L326.30 303.15 L326.80 303.48 L327.30 303.81 L327.80 304.14 L328.30 304.47 L328.80 304.80 L329.30 305.12 L329.80 305.45 L330.30 305.77 L330.80 306.10 L331.30 306.42 L331.80 306.74 L332.30 307.06 L332.80 307.37 L333.30 307.69 L333.80 308.00 L334.30 308.32 L334.80 308.63 L335.30 308.94 L335.80 309.25 L336.30 309.56 L336.80 309.87 L337.30 310.17 L337.80 310.48 L338.30 310.78 L338.80 311.08 L339.30 311.39 L339.80 311.69 L340.30 311.98 L340.80 312.28 L341.30 312.58 L341.80 312.87 L342.30 313.17 L342.80 313.46 L343.30 313.75 L343.80 314.04 L344.30 314.33 L344.80 314.62 L345.30 314.91 L345.80 315.19 L346.30 315.48 L346.80 315.76 L347.30 316.04 L347.80 316.32 L348.30 316.60 L348.80 316.88 L349.30 317.16 L349.80 317.43 L350.30 317.71 L350.80 317.98 L351.30 318.26 L351.80 318.53 L352.30 318.80 L352.80 319.07 L353.30 319.34 L353.80 319.60 L354.30 319.87 L354.80 320.14 L355.30 320.40 L355.80 320.66 L356.30 320.92 L356.80 321.18 L357.30 321.44 L357.80 321.70 L358.30 321.96 L358.80 322.22 L359.30 322.47 L359.80 322.73 L360.30 322.98 L360.80 323.23 L361.30 323.48 L361.80 323.73 L362.30 323.98 L362.80 324.23 L363.30 324.47 L363.80 324.72 L364.30 324.96 L364.80 325.21 L365.30 325.45 L365.80 325.69 L366.30 325.93 L366.80 326.17 L367.30 326.41 L367.80 326.65 L368.30 326.88 L368.80 327.12 L369.30 327.35 L369.80 327.58 L370.30 327.82 L370.80 328.05 L371.30 328.28 L371.80 328.50 L372.30 328.73 L372.80 328.96 L373.30 329.18 L373.80 329.41 L374.30 329.63 L374.80 329.85 L375.30 330.08 L375.80 330.30 L376.30 330.52 L376.80 330.73 L377.30 330.95 L377.80 331.17 L378.30 331.38 L378.80 331.60 L379.30 331.81 L379.80 332.02 L380.30 332.23 L380.80 332.44 L381.30 332.65 L381.80 332.86 L382.30 333.07 L382.80 333.27 L383.30 333.48 L383.80 333.68 L384.30 333.89 L384.80 334.09 L385.30 334.29 L385.80 334.49 L386.30 334.69 L386.80 334.89 L387.30 335.08 L387.80 335.28 L388.30 335.47 L388.80 335.67 L389.30 335.86 L389.80 336.05 L390.30 336.24 L390.80 336.43 L391.30 336.62 L391.80 336.81 L392.30 337.00 L392.80 337.18 L393.30 337.37 L393.80 337.55 L394.30 337.74 L394.80 337.92 L395.30 338.10 L395.80 338.28 L396.30 338.46 L396.80 338.64 L397.30 338.81 L397.80 338.99 L398.30 339.17 L398.80 339.34 L399.30 339.51 L399.80 339.69 L400.30 339.86 L400.80 340.03 L401.30 340.20 L401.80 340.37 L402.30 340.53 L402.80 340.70 L403.30 340.87 L403.80 341.03 L404.30 341.19 L404.80 341.36 L405.30 341.52 L405.80 341.68 L406.30 341.84 L406.80 342.00 L407.30 342.16 L407.80 342.31 L408.30 342.47 L408.80 342.62 L409.30 342.78 L409.80 342.93 L410.30 343.08 L410.80 343.24 L411.30 343.39 L411.80 343.54 L412.30 343.69 L412.80 343.83 L413.30 343.98 L413.80 344.13 L414.30 344.27 L414.80 344.41 L415.30 344.56 L415.80 344.70 L416.30 344.84 L416.80 344.98 L417.30 345.12 L417.80 345.26 L418.30 345.40 L418.80 345.53 L419.30 345.67 L419.80 345.80 L420.30 345.94 L420.80 346.07 L421.30 346.20 L421.80 346.34 L422.30 346.47 L422.80 346.59 L423.30 346.72 L423.80 346.85 L424.30 346.98 L424.80 347.10 L425.30 347.23 L425.80 347.35 L426.30 347.48 L426.80 347.60 L427.30 347.72 L427.80 347.84 L428.30 347.96 L428.80 348.08 L429.30 348.20 L429.80 348.31 L430.30 348.43 L430.80 348.54 L431.20 348.64 L433.20 350.20" fill="none" stroke="#000" stroke-width="2.6" stroke-linejoin="round" stroke-linecap="round"/>
<path d="M433.20 350.20H452.80" fill="none" stroke="#000" stroke-width="1.9" stroke-linecap="round"/>
<text x="358.00" y="287.10" font-size="6.8" textLength="9.20" lengthAdjust="spacingAndGlyphs" fill="#1a1a1a" stroke="#1a1a1a" stroke-width="0.22">HR</text>
<text x="368.80" y="287.10" font-size="6.8" textLength="14.90" lengthAdjust="spacingAndGlyphs" fill="#1a1a1a" stroke="#1a1a1a" stroke-width="0.22">1.43,</text>
<text x="385.30" y="287.10" font-size="6.8" textLength="13.40" lengthAdjust="spacingAndGlyphs" fill="#1a1a1a" stroke="#1a1a1a" stroke-width="0.22">95%</text>
<text x="400.30" y="287.10" font-size="6.8" textLength="7.10" lengthAdjust="spacingAndGlyphs" fill="#1a1a1a" stroke="#1a1a1a" stroke-width="0.22">CI</text>
<text x="409.00" y="287.10" font-size="6.8" textLength="28.50" lengthAdjust="spacingAndGlyphs" fill="#1a1a1a" stroke="#1a1a1a" stroke-width="0.22">1.35-1.52</text>
<text x="291.50" y="343.20" font-size="6.2" textLength="27.60" lengthAdjust="spacingAndGlyphs" fill="#111" stroke="#111" stroke-width="0.06">p &lt; 0.0001</text>
<text x="326.70" y="257.70" font-size="4.8" textLength="50.50" lengthAdjust="spacingAndGlyphs" fill="#1a1a1a" stroke="#1a1a1a" stroke-width="0.1">Pulmonary Hypertension</text>
<rect x="380.10" y="252.1" width="6.7" height="6.5" fill="#acacac"/>
<rect x="380.10" y="254.9" width="6.7" height="1.2" fill="#000"/>
<rect x="382.95" y="253.9" width="1" height="3.2" fill="#000"/>
<rect x="396.40" y="252.1" width="6.7" height="6.5" fill="#aaa6f2"/>
<rect x="396.40" y="254.9" width="6.7" height="1.2" fill="#1a00cc"/>
<rect x="399.25" y="253.9" width="1" height="3.2" fill="#1a00cc"/>
<text x="388.75" y="257.30" font-size="3.5" textLength="4.60" lengthAdjust="spacingAndGlyphs" fill="#1a1a1a">No</text>
<text x="406.30" y="257.30" font-size="3.5" textLength="5.40" lengthAdjust="spacingAndGlyphs" fill="#1a1a1a">Yes</text>
</svg>
</body></html>
